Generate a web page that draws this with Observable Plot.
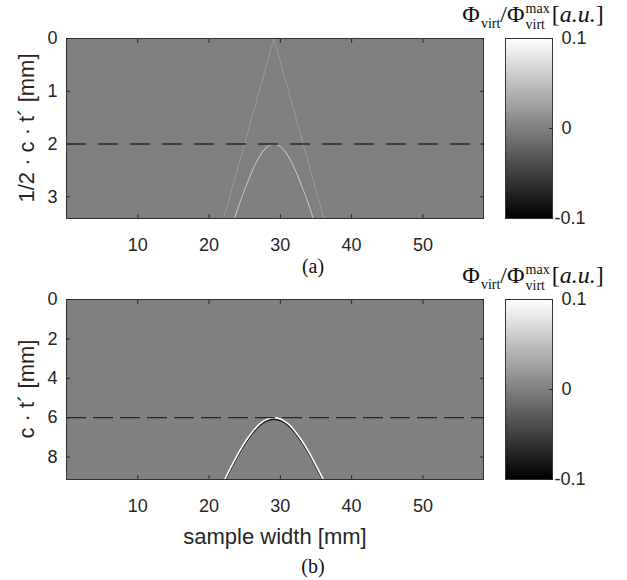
<!DOCTYPE html>
<html><head><meta charset="utf-8">
<script src="https://cdn.jsdelivr.net/npm/d3@7"></script>
<script src="https://cdn.jsdelivr.net/npm/@observablehq/plot@0.6"></script>
<style>
body{margin:0;background:#fff}
#fig{position:relative;width:627px;height:580px;overflow:hidden;background:#fff}
.abs{position:absolute;white-space:nowrap}
.sans{font-family:"Liberation Sans",Arial,Helvetica,sans-serif;color:#262626}
.serif{font-family:"Liberation Serif","Times New Roman",serif;color:#111}
.cbt{font-size:24px;line-height:30px;height:30px}
.cbt .sub{font-size:14px;line-height:16px;vertical-align:-6px;margin-left:1px}
.cbt .stack{display:inline-flex;flex-direction:column;line-height:16px;font-size:14px;vertical-align:9px;margin:0 2px 0 1px}
</style></head><body><div id="fig"></div><script>
// ---------- data ----------
const xDomain = [0, 58.5];          // sample width [mm]
const xTicks = [10, 20, 30, 40, 50];
const yDomainA = [0, 3.41];         // 1/2 c t' [mm]
const yTicksA = [0, 1, 2, 3];
const yDomainB = [0, 9.14];         // c t' [mm]
const yTicksB = [0, 2, 4, 6, 8];
const cbDomain = [-0.1, 0.1];
const cbTicks = [-0.1, 0, 0.1];
const dashYA = 2;
const dashYB = 6;

// panel (a): direct (V-shaped) wave front
const directAx = [22.05, 29.1, 36.1];
const directAy = [3.41, 0.0, 3.41];
const directAv = 0.02;
// panel (a): reflection hyperbola
const hypAx = [23.58, 24.3, 25.1, 25.9, 26.7, 27.5, 28.3, 29.1, 29.9, 30.7, 31.5, 32.3, 33.1, 33.9, 34.62];
const hypAy = [3.41, 3.12, 2.83, 2.56, 2.33, 2.15, 2.04, 2.00, 2.04, 2.15, 2.33, 2.56, 2.83, 3.12, 3.41];
const hypAv = 0.045;
const hypAvDark = -0.012;
// panel (b): reflection hyperbola
const hypBx = [22.2, 23.1, 24.1, 25.1, 26.1, 27.1, 28.1, 29.1, 30.1, 31.1, 32.1, 33.1, 34.1, 35.1, 36.0];
const hypBy = [9.14, 8.49, 7.81, 7.21, 6.71, 6.32, 6.08, 6.00, 6.08, 6.32, 6.71, 7.21, 7.81, 8.49, 9.14];
const hypBv = 0.1;
const hypBvDark = -0.09;

// ---------- helpers ----------
const pts = (xs, ys, v) => xs.map((x, i) => ({x, y: ys[i], v}));
const colorScale = {type: "linear", domain: cbDomain, range: ["#000000", "#ffffff"]};
const axisColor = "#262626";
const fmt = d => String(d);
const svgStyle = {background: "transparent", overflow: "visible", fontFamily: "'Liberation Sans', Arial, sans-serif", fontSize: "18px", color: axisColor};
const fig = document.getElementById("fig");

function place(el, left, top) {
  el.style.position = "absolute"; el.style.left = left + "px"; el.style.top = top + "px";
  fig.appendChild(el);
}

function mainPanel(yDomain, yTicks, lines, dashY, dash) {
  const bg = [{x1: xDomain[0], x2: xDomain[1], y1: yDomain[0], y2: yDomain[1], v: 0}];
  return Plot.plot({
    width: 495, height: 260, marginLeft: 66, marginRight: 12, marginTop: 38, marginBottom: 42,
    x: {domain: xDomain}, y: {domain: yDomain, reverse: true},
    color: colorScale, style: svgStyle,
    marks: [
      Plot.rect(bg, {x1: "x1", x2: "x2", y1: "y1", y2: "y2", fill: "v"}),
      ...lines.map(l => Plot.line(l.data, {x: "x", y: "y", stroke: "v", strokeWidth: l.w, dy: l.dy || 0, curve: l.curve || "catmull-rom", clip: true})),
      Plot.ruleY([dashY], {stroke: axisColor, strokeWidth: 1.4, strokeDasharray: dash}),
      Plot.frame({stroke: "#333", strokeWidth: 1}),
      Plot.axisX(xTicks, {anchor: "bottom", tickSize: 4, insetBottom: 4, tickPadding: 20, fontSize: 18, label: null, color: axisColor, tickFormat: fmt}),
      Plot.axisX(xTicks, {anchor: "top", tickSize: 4, insetTop: 4, fill: "none", label: null, stroke: axisColor}),
      Plot.axisY(yTicks, {anchor: "left", tickSize: 4, insetLeft: 4, tickPadding: 9, fontSize: 18, label: null, color: axisColor, tickFormat: fmt}),
      Plot.axisY(yTicks, {anchor: "right", tickSize: 4, insetRight: 4, fill: "none", label: null, stroke: axisColor})
    ]
  });
}

function colorbar() {
  return Plot.plot({
    width: 147, height: 260, marginLeft: 25, marginRight: 75, marginTop: 38, marginBottom: 42,
    x: {domain: [0, 1], axis: null}, y: {domain: cbDomain},
    color: colorScale, style: svgStyle,
    marks: [
      Plot.raster({fill: (x, y) => y, x1: 0, x2: 1, y1: cbDomain[0], y2: cbDomain[1], pixelSize: 1}),
      Plot.frame({stroke: "#333", strokeWidth: 1}),
      Plot.axisY(cbTicks, {anchor: "right", tickSize: 4, insetRight: 4, fill: "none", label: null, stroke: axisColor}),
      Plot.axisY(cbTicks.filter(t => t >= 0), {anchor: "right", tickSize: 0, tickPadding: 9, fontSize: 18, label: null,
        tickFormat: fmt, textAnchor: "start", color: axisColor}),
      Plot.axisY(cbTicks.filter(t => t < 0), {anchor: "right", tickSize: 0, tickPadding: 2, fontSize: 18, label: null,
        tickFormat: fmt, textAnchor: "start", color: axisColor})
    ]
  });
}

function cbTitle(top) {
  const d = document.createElement("div");
  d.className = "abs serif cbt";
  d.innerHTML = 'Φ<span class="sub">virt</span>/Φ<span class="stack"><span>max</span><span>virt</span></span>[<i>a.u.</i>]';
  d.style.transform = "translateX(-50%)";
  place(d, 533, top);
}
function text(str, cls, left, top, extra) {
  const d = document.createElement("div");
  d.className = "abs " + cls; d.textContent = str;
  Object.assign(d.style, extra || {});
  place(d, left, top);
  return d;
}

// ---------- panel (a) ----------
const linesA = [
  {data: pts(directAx, directAy, directAv), w: 1, curve: "linear"},
  {data: pts(hypAx, hypAy, hypAvDark), w: 1.2, dy: 1.2},
  {data: pts(hypAx, hypAy, hypAv), w: 1.3}
];
place(mainPanel(yDomainA, yTicksA, linesA, dashYA, "20,12"), 0, 0);
place(colorbar(), 480, 0);
cbTitle(-1);
text("1/2 · c · t´ [mm]", "sans", 27, 128, {fontSize: "22px", lineHeight: "1", transform: "translate(-50%,-50%) rotate(-90deg)"});
text("(a)", "serif", 313, 266, {fontSize: "20px", lineHeight: "1", transform: "translate(-50%,-50%)"});

// ---------- panel (b) ----------
const linesB = [
  {data: pts(hypBx, hypBy, hypBvDark), w: 1.3, dy: 1.6},
  {data: pts(hypBx, hypBy, hypBv), w: 1.6}
];
const offB = 261;
place(mainPanel(yDomainB, yTicksB, linesB, dashYB, "20,7"), 0, offB);
place(colorbar(), 480, offB);
cbTitle(-1 + offB);
text("c · t´ [mm]", "sans", 27, 128 + offB, {fontSize: "22px", lineHeight: "1", transform: "translate(-50%,-50%) rotate(-90deg)"});
text("sample width [mm]", "sans", 275, 537, {fontSize: "22px", lineHeight: "1", transform: "translate(-50%,-50%)"});
text("(b)", "serif", 313, 566, {fontSize: "20px", lineHeight: "1", transform: "translate(-50%,-50%)"});
</script></body></html>
